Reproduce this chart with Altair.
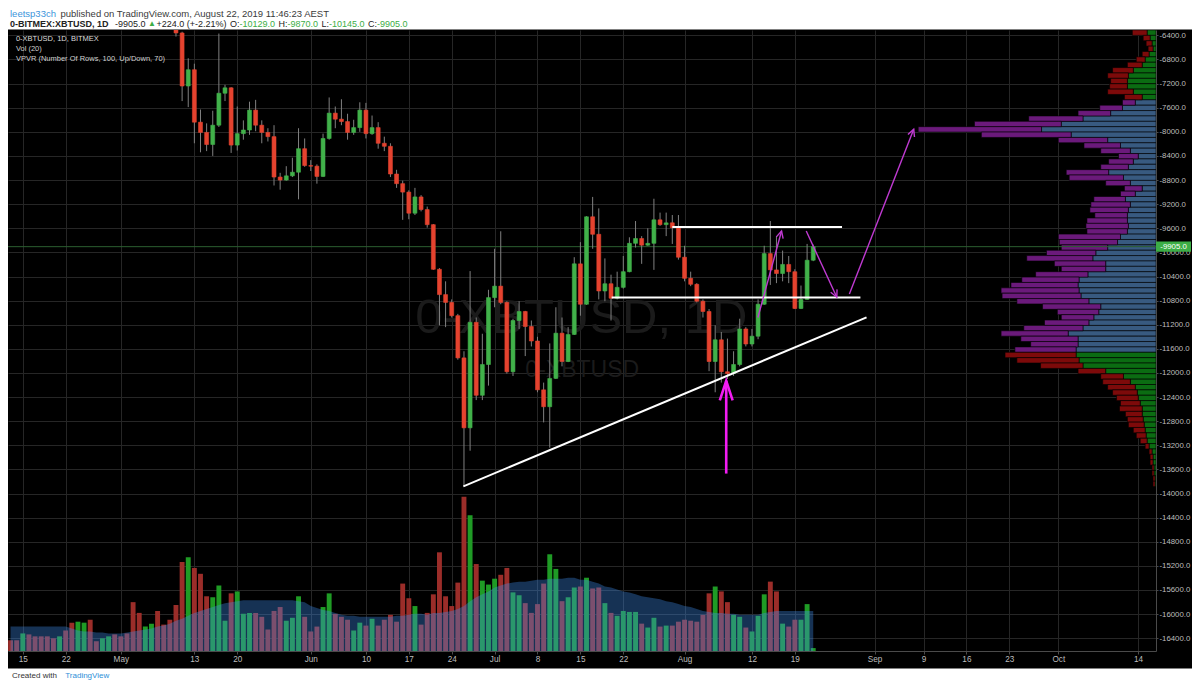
import altair as alt
import pandas as pd

# ------------------------------------------------------------------ data
ORIGIN = "2019-04-15"          # day 0 of the time axis
FIRST_CANDLE = "2019-05-10"
LAST_CANDLE = "2019-08-22"

OPEN = [-6150, -6360, -7240, -6970, -7840, -8010, -8210, -7890, -7360, -7270, -8220, -8030, -7970, -7640, -7890, -8010, -8080, -8750, -8800, -8730, -8670, -8280,
        -8560, -8570, -8740, -8110, -7690, -7790, -7830, -8010, -7930, -7640, -8030, -7930, -8190, -8240, -8700, -8860, -9000, -9350, -9080, -9290, -9540, -10280, -10700, -10830, -11050, -11750, -12910, -11160, -12370, -11860,
        -10750, -10560, -10830, -11980, -11130, -10980, -11230, -11470, -12280, -12560, -12090, -11340, -11810, -11360, -10190, -10860, -9410, -9700, -10640, -10520, -10760, -10580, -10320, -9850, -9770, -9880, -9850, -9460, -9540, -9510, -9590,
        -10080, -10430, -10530, -10810, -10980, -11810, -11450, -11980, -12010, -11860, -11270, -11520, -11390, -10860, -10020, -10290, -10350, -10200, -10320, -10930, -10780, -10129]
HIGH = [-6100, -6340, -6780, -6870, -7630, -7860, -7650, -6370, -7220, -7260, -7580, -7810, -7500, -7470, -7810, -7940, -7890, -8680, -8570, -8430, -7940, -8110,
        -8470, -8540, -8030, -7430, -7580, -7460, -7700, -7800, -7510, -7520, -7730, -7840, -8080, -8190, -8630, -8810, -8970, -8930, -9050, -9240, -9530, -10260, -10480, -10780, -11020, -11640, -10310, -11080, -11350, -10620,
        -9940, -9650, -10810, -11100, -10810, -10970, -11130, -11400, -12160, -11510, -10910, -11080, -11240, -10080, -9830, -9400, -9080, -9270, -10100, -10370, -10320, -10060, -9750, -9480, -9730, -9600, -9110, -9340, -9340, -9380, -9380,
        -9890, -10320, -10510, -10780, -10940, -11210, -11320, -11430, -11640, -11100, -11240, -11270, -10780, -9890, -9480, -9730, -9970, -10060, -10280, -10550, -9860, -9870]
LOW = [-6420, -7490, -7590, -8190, -8340, -8320, -8400, -7920, -7490, -8350, -8310, -8130, -8050, -7990, -8190, -8160, -8890, -8960, -8810, -8750, -9120, -8580,
       -8650, -8860, -8750, -8130, -7940, -7890, -8130, -8050, -8000, -8110, -8050, -8280, -8320, -8750, -8930, -9460, -9450, -9380, -9320, -9590, -10290, -11210, -11240, -11080, -11780, -13880, -13290, -12450, -12450, -12210,
       -10910, -10860, -12010, -12050, -11270, -11720, -11560, -12320, -12820, -13240, -12100, -11890, -11820, -11370, -11050, -10870, -9940, -10780, -10810, -11130, -10780, -10600, -10330, -9920, -10190, -9890, -10290, -9560, -9730, -9860, -10120,
       -10480, -10560, -10830, -11080, -11970, -12320, -12160, -12100, -12050, -11890, -11560, -11560, -11440, -10870, -10540, -10510, -10480, -10510, -10940, -10940, -10790, -10145]
CLOSE = [-6360, -7240, -6970, -7840, -8010, -8210, -7890, -7360, -7270, -8220, -8030, -7970, -7640, -7890, -8010, -8080, -8750, -8800, -8730, -8670, -8280, -8560,
         -8570, -8740, -8110, -7690, -7790, -7830, -8010, -7930, -7640, -8030, -7930, -8190, -8240, -8700, -8860, -9000, -9350, -9080, -9290, -9540, -10280, -10700, -10830, -11050, -11750, -12910, -11160, -12370, -11860, -10750,
         -10560, -10830, -11980, -11130, -10980, -11230, -11470, -12280, -12560, -12090, -11340, -11810, -11360, -10190, -10860, -9410, -9700, -10640, -10520, -10760, -10580, -10320, -9850, -9770, -9880, -9850, -9460, -9540, -9510, -9590, -10080,
         -10430, -10530, -10810, -10980, -11810, -11450, -11980, -12010, -11860, -11270, -11520, -11390, -10860, -10020, -10290, -10350, -10200, -10320, -10930, -10780, -10130, -9905]

# volume pane (relative units), first bar is day -2
VOL_FIRST_DAY = -2
VOLUME = [11, 11, 18, 17, 15, 15, 15, 13, 15, 21,
          29, 30, 29, 32, 10, 13, 15, 17, 15, 18,
          50, 39, 25, 28, 41, 27, 32, 47, 91, 96,
          85, 79, 56, 55, 67, 31, 59, 61, 38, 39,
          39, 35, 22, 41, 45, 31, 34, 56, 35, 20,
          25, 45, 59, 38, 35, 32, 21, 29, 26, 33,
          26, 32, 37, 30, 69, 54, 46, 27, 39, 58,
          101, 56, 46, 70, 158, 139, 89, 72, 68, 74,
          78, 85, 60, 57, 49, 39, 48, 69, 99, 84,
          51, 55, 65, 66, 75, 64, 65, 49, 39, 36,
          41, 40, 40, 28, 24, 34, 25, 26, 26, 30,
          32, 31, 30, 37, 59, 66, 61, 50, 37, 35,
          24, 20, 36, 58, 71, 61, 28, 25, 32, 32,
          48, 3]
VOL_MA20 = [25, 25, 25, 25, 25, 25, 25, 25, 25, 25,
            23, 21, 20, 20, 19, 19, 18, 18, 18, 19, 20, 21, 22, 23, 25, 26, 28, 31, 33, 36, 39, 41, 43, 45, 47, 49, 50, 51, 52,
            52, 52, 52, 52, 52, 52, 52, 52,
            51, 50, 46, 44, 42, 41, 39, 37, 36, 36,
            35, 35, 35, 35, 35, 35, 36, 36, 37, 38,
            38, 37, 39, 39, 40, 41, 43, 46, 51, 55,
            58, 61, 65, 67, 69, 70, 71, 71, 72, 73,
            73, 74, 74, 74, 75, 75, 73, 73, 71, 69,
            66, 65, 63, 61, 60, 58, 56, 55, 54, 53,
            51, 50, 48, 46, 45, 43, 41, 40, 39, 39,
            38, 38, 37, 37, 37, 37, 39, 40, 41, 41,
            41, 41, 41, 41, 41]
# direction of the volume bars whose candles sit above the visible price range
EARLY_UP = [0, 0, 1, 0, 0, 0, 0, 0, 1, 0, 0, 1, 1, 0, 0, 1, 1, 0, 0, 0, 0, 0, 1, 1, 0, 0, 0]

# volume profile (VPVR), rows from the top of the pane downwards
VP_TOP = -6311
VP_STEP = 89.1
VP_UP = [9, 6, 4, 3, 7, 11, 14, 23, 28, 29, 29, 23, 14,
         21, 34, 46, 74, 96, 116, 86, 49, 36, 26, 18, 23, 28, 48, 33, 26, 14, 21, 31, 26, 28, 29, 29, 28, 29, 36, 39, 49, 61, 64, 51, 51, 69, 78, 79, 78, 76, 68, 56, 58, 63, 68, 74, 89, 79, 79, 81,
         81, 78, 74, 51, 33, 26, 21, 19, 18, 16, 14, 14, 13, 12, 11, 10, 9, 7, 4, 3, 3, 2, 2, 1, 1]
VP_DOWN = [15, 7, 6, 5, 7, 9, 15, 21, 21, 17, 18, 26, 18,
           13, 23, 33, 55, 88, 125, 91, 50, 37, 30, 20, 25, 28, 43, 55, 25, 18, 15, 32, 40, 39, 33, 41, 43, 41, 63, 59, 47, 50, 67, 52, 45, 53, 58, 68, 79, 80, 73, 59, 42, 33, 45, 60, 68, 58, 48, 62,
           72, 63, 43, 28, 23, 28, 28, 25, 22, 20, 23, 17, 16, 16, 12, 10, 7, 4, 3, 3, 3, 2, 2, 2, 2]
VA_FIRST, VA_LAST = 13, 59

TICK_DAYS = [0, 7, 16, 28, 35, 47, 56, 63, 70, 77, 84, 91, 98, 108, 119, 126, 139, 147, 154, 161, 169, 182]
TICK_LABELS = ["15", "22", "May", "13", "20", "Jun", "10", "17", "24", "Jul", "8", "15", "22", "Aug",
               "12", "19", "Sep", "9", "16", "23", "Oct", "14"]
PRICE_TICKS = list(range(-6400, -16401, -400))
LAST_PRICE = -9905.0

WHITE_LINES = {
    "resistance": [(106.0, -9580), (133.7, -9580)],
    "support": [(96.1, -10750), (136.7, -10750)],
    "trend": [(71.9, -13880), (137.7, -11077)],
}
THIN_ARROWS = {
    "a1": [(119.97, -11079), (123.83, -9646)],
    "a2": [(127.86, -9646), (132.85, -10743)],
    "a3": [(134.9, -10690), (145.4, -7956)],
}
BIG_ARROW = [(114.8, -13669), (114.8, -12130)]
ARROW_ANGLE = {"a1": 15, "a2": 155, "a3": 21, "big": 0}

# ------------------------------------------------------------------ layout / style
W, H = 1148, 621
SX, SY = 1184 / 1200, 677 / 693
TOP = 22


def px(x):
    return round(x * SX, 2)


def py(y):
    return round(y * SY - TOP, 2)


X_DOM = [-2.415, 184.94]
P_DOM = [-16612, -6311]
V_DOM = [0, 635.6]
VP_DOM = [0, 1163.5]

FONT = "Liberation Sans"
RED, GREEN = "#e5432f", "#41b14a"
VRED, VGREEN = "#9b2d29", "#1f9b25"
GRID, BORDER, LABEL = "#262626", "#4a4a4a", "#bdbdbd"
ONE = alt.Data(values=[{"k": 1}])

xsc = alt.Scale(domain=X_DOM, nice=False, zero=False)
psc = alt.Scale(domain=P_DOM, nice=False, zero=False)
vsc = alt.Scale(domain=V_DOM, nice=False, zero=False)
vpsc = alt.Scale(domain=VP_DOM, nice=False, zero=False, reverse=True)

label_expr = " : ".join(f"datum.value == {d} ? '{l}'" for d, l in zip(TICK_DAYS, TICK_LABELS)) + " : ''"
x_axis = alt.Axis(values=TICK_DAYS, labelExpr=label_expr, title="", orient="bottom",
                  grid=True, gridColor=GRID, gridWidth=1, domain=True, domainColor=BORDER,
                  ticks=True, tickColor=BORDER, tickSize=3, labelColor=LABEL, labelFontSize=8.2,
                  labelFont=FONT, labelPadding=5, labelBaseline="middle", labelFlush=False, labelOverlap=False)
y_axis = alt.Axis(values=PRICE_TICKS, labelExpr="'-' + format(abs(datum.value), '.1f')", title="",
                  orient="right", grid=True, gridColor=GRID, gridWidth=1, domain=True, domainColor=BORDER,
                  ticks=True, tickColor=BORDER, tickSize=2, labelColor=LABEL, labelFontSize=7.8,
                  labelFont=FONT, labelPadding=1, labelFlush=False, labelOverlap=False)


def seg(txt, x, y, size, color, weight="normal", align="left"):
    return alt.Chart(ONE).mark_text(text=txt, align=align, baseline="middle", fontSize=size,
                                    color=color, fontWeight=weight, font=FONT).encode(
        x=alt.value(x), y=alt.value(y))


def band(y0, y1, color):
    return alt.Chart(ONE).mark_rect(color=color).encode(
        x=alt.value(0), x2=alt.value(px(1200)), y=alt.value(y0), y2=alt.value(y1))


# ------------------------------------------------------------------ tables
days = (pd.date_range(FIRST_CANDLE, LAST_CANDLE, freq="D") - pd.Timestamp(ORIGIN)).days
cdf = pd.DataFrame(dict(day=days, o=OPEN, h=HIGH, l=LOW, c=CLOSE))
up_by_day = dict(zip(cdf.day, cdf.c >= cdf.o))

vdays = [VOL_FIRST_DAY + i for i in range(len(VOLUME))]
vdf = pd.DataFrame(dict(day=vdays, vol=VOLUME, ma=VOL_MA20))
vdf["up"] = [bool(up_by_day[d]) if d in up_by_day else bool(EARLY_UP[d - VOL_FIRST_DAY]) for d in vdays]

vp_rows = []
for t, (u, dn) in enumerate(zip(VP_UP, VP_DOWN)):
    hi = VP_TOP - t * VP_STEP
    va = VA_FIRST <= t <= VA_LAST
    vp_rows.append(dict(hi=hi, lo=hi - VP_STEP, a=0, b=u, va=va, side="up"))
    vp_rows.append(dict(hi=hi, lo=hi - VP_STEP, a=u, b=u + dn, va=va, side="down"))
vpdf = pd.DataFrame(vp_rows)


def lines_frame(d):
    rows = []
    for name, pts in d.items():
        for k, (xd, p) in enumerate(pts):
            rows.append(dict(id=name, k=k, day=xd, p=p))
    return pd.DataFrame(rows)


wl = lines_frame(WHITE_LINES)
ta = lines_frame(THIN_ARROWS)
ba = lines_frame({"big": BIG_ARROW})
heads_thin = pd.DataFrame([dict(day=pts[-1][0], p=pts[-1][1], ang=ARROW_ANGLE[n]) for n, pts in THIN_ARROWS.items()])
heads_big = pd.DataFrame([dict(day=BIG_ARROW[-1][0], p=BIG_ARROW[-1][1], ang=ARROW_ANGLE["big"])])

# ------------------------------------------------------------------ layers
bands = band(-TOP, py(22), "#ffffff") + band(py(676), py(693) + 2, "#ffffff")

watermark = (seg("0-XBTUSD, 1D", px(581), py(317), 49, "#1b1b1b", align="center")
             + seg("0-XBTUSD", px(582), py(371), 23, "#1b1b1b", align="center"))

vp_base = alt.Chart(vpdf).mark_rect(stroke="#000000", strokeWidth=0.6, clip=True).encode(
    x=alt.X("a:Q", scale=vpsc, axis=None), x2="b:Q",
    y=alt.Y("hi:Q", scale=psc, axis=None), y2="lo:Q")
vp_up = vp_base.transform_filter("datum.side == 'up'").encode(
    color=alt.condition("datum.va", alt.value("#385a80"), alt.value("#0b6c12")))
vp_down = vp_base.transform_filter("datum.side == 'down'").encode(
    color=alt.condition("datum.va", alt.value("#6b1a7b"), alt.value("#7d0a0a")))

vol_bars = alt.Chart(vdf).transform_calculate(x0="datum.day - 0.4", x1="datum.day + 0.4").mark_rect(clip=True).encode(
    x=alt.X("x0:Q", scale=xsc, axis=None), x2="x1:Q",
    y=alt.Y("vol:Q", scale=vsc, axis=None), y2=alt.datum(0),
    color=alt.condition("datum.up", alt.value(VGREEN), alt.value(VRED)))
vol_ma = alt.Chart(vdf).mark_area(color="#3f8ff0", opacity=0.35, clip=True).encode(
    x=alt.X("day:Q", scale=xsc, axis=None),
    y=alt.Y("ma:Q", scale=vsc, axis=None))

price_line = alt.Chart(pd.DataFrame(dict(p=[LAST_PRICE]))).mark_rule(color="#2b5e30", strokeWidth=1).encode(
    y=alt.Y("p:Q", scale=psc, axis=None), x=alt.value(0), x2=alt.value(W))

wicks = alt.Chart(cdf).mark_rule(color="#808080", strokeWidth=1, clip=True).encode(
    x=alt.X("day:Q", scale=xsc, axis=x_axis),
    y=alt.Y("l:Q", scale=psc, axis=y_axis), y2="h:Q")
bodies = alt.Chart(cdf).transform_calculate(x0="datum.day - 0.32", x1="datum.day + 0.32").mark_rect(
    strokeWidth=0.6, clip=True).encode(
    x=alt.X("x0:Q", scale=xsc, axis=None), x2="x1:Q",
    y=alt.Y("o:Q", scale=psc, axis=None), y2="c:Q",
    fill=alt.condition("datum.c >= datum.o", alt.value(GREEN), alt.value(RED)),
    stroke=alt.condition("datum.c >= datum.o", alt.value(GREEN), alt.value(RED)))

white = alt.Chart(wl).mark_line(color="#ffffff", strokeWidth=2, clip=True).encode(
    x=alt.X("day:Q", scale=xsc, axis=None), y=alt.Y("p:Q", scale=psc, axis=None),
    detail="id:N", order="k:Q")
thin = alt.Chart(ta).mark_line(color="#c03ad2", strokeWidth=1.4, clip=True).encode(
    x=alt.X("day:Q", scale=xsc, axis=None), y=alt.Y("p:Q", scale=psc, axis=None),
    detail="id:N", order="k:Q")
big = alt.Chart(ba).mark_line(color="#f21cf2", strokeWidth=2.6, clip=True).encode(
    x=alt.X("day:Q", scale=xsc, axis=None), y=alt.Y("p:Q", scale=psc, axis=None), order="k:Q")
thin_heads = alt.Chart(heads_thin).mark_point(shape="M-0.5,1L0,0L0.5,1", size=196, filled=False, opacity=1,
                                             strokeWidth=1.4, color="#c03ad2").encode(
    x=alt.X("day:Q", scale=xsc, axis=None), y=alt.Y("p:Q", scale=psc, axis=None),
    angle=alt.Angle("ang:Q", scale=None))
big_heads = alt.Chart(heads_big).mark_point(shape="M-0.33,1L0,0L0.33,1", size=1521, filled=False, opacity=1,
                                           strokeWidth=2.6, color="#f21cf2").encode(
    x=alt.X("day:Q", scale=xsc, axis=None), y=alt.Y("p:Q", scale=psc, axis=None),
    angle=alt.Angle("ang:Q", scale=None))

last_box = alt.Chart(pd.DataFrame(dict(p=[LAST_PRICE]))).mark_point(
    shape="M-1,-0.29L1,-0.29L1,0.29L-1,0.29Z", size=1225, filled=True, opacity=1, color="#3cae46").encode(
    x=alt.value(W + 17.5), y=alt.Y("p:Q", scale=psc, axis=None))
last_txt = alt.Chart(pd.DataFrame(dict(p=[LAST_PRICE]))).mark_text(
    text="-9905.0", fontSize=7.8, color="#ffffff", font=FONT, align="center", baseline="middle").encode(
    x=alt.value(W + 17.5), y=alt.Y("p:Q", scale=psc, axis=None))

legend = (seg("0-XBTUSD, 1D, BITMEX", px(8), py(32), 7.5, "#dcdcdc")
          + seg("Vol (20)", px(8), py(42), 7.5, "#d0d0d0")
          + seg("VPVR (Number Of Rows, 100, Up/Down, 70)", px(8), py(52), 7.5, "#d0d0d0"))

y1, y2 = py(6), py(16.3)
header = (seg("leetsp33ch", 2, y1, 9.5, "#3d94db")
          + seg(" published on TradingView.com, August 22, 2019 11:46:23 AEST", 52.5, y1, 9.5, "#3a3a3a")
          + seg("0-BITMEX:XBTUSD, 1D", 2, y2, 9, "#222222", weight="bold")
          + seg("-9905.0", 107, y2, 9, "#222222")
          + seg("\u25b2", 140, y2, 8, "#3cae46")
          + seg("+224.0 (+-2.21%)", 148.5, y2, 9, "#222222")
          + seg("O:", 222, y2, 9, "#222222") + seg("-10129.0", 231.5, y2, 9, "#3cae46")
          + seg("H:", 270.5, y2, 9, "#222222") + seg("-9870.0", 279.5, y2, 9, "#3cae46")
          + seg("L:", 313.5, y2, 9, "#222222") + seg("-10145.0", 321, y2, 9, "#3cae46")
          + seg("C:", 360, y2, 9, "#222222") + seg("-9905.0", 369, y2, 9, "#3cae46"))
footer = (seg("Created with", px(4), py(684), 8, "#333333")
          + seg("TradingView", px(58), py(684), 8, "#2e8fd8"))

chart = alt.layer(
    bands, watermark, vp_up, vp_down, vol_bars, vol_ma, price_line, wicks, bodies,
    white, thin, big, thin_heads, big_heads, last_box, last_txt, legend, header, footer
).resolve_scale(x="independent", y="independent").properties(
    width=W, height=H,
    autosize=alt.AutoSizeParams(type="none"),
    padding={"left": 0, "top": TOP, "right": 36, "bottom": 677 - TOP - H},
).configure(background="#000000", font=FONT).configure_view(strokeWidth=0)

chart.save("out.html", embed_options={"renderer": "svg", "actions": False})
